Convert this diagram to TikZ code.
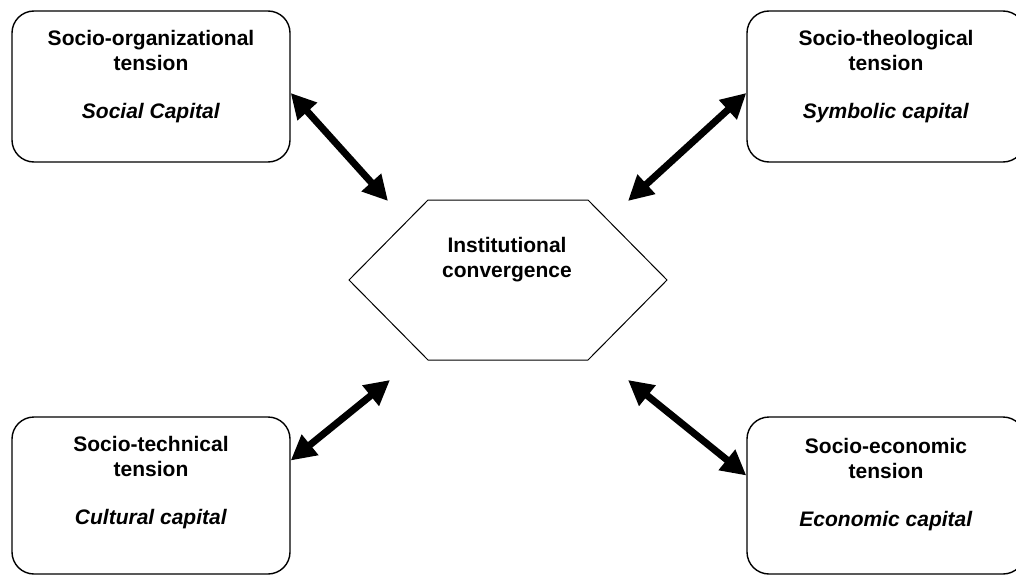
\documentclass[tikz,border=0pt]{standalone}
\usepackage{fontspec}
\setmainfont{Liberation Sans}
\usetikzlibrary{arrows.meta}

\tikzset{
  tensionbox/.style={draw, rounded corners=22pt, line width=1.4pt, minimum width=278pt},
  tensiontext/.style={align=center, font=\fontsize{21}{25}\selectfont\bfseries},
  linkarrow/.style={{Triangle[length=25pt,width=25pt]}-{Triangle[length=25pt,width=25pt]}, line width=7pt},
}

\begin{document}
\begin{tikzpicture}[x=1pt, y=-1pt]
  \useasboundingbox (0,0) rectangle (1016,575);
  \clip (0,0) rectangle (1016,575);

  % the four tensions
  \node[tensionbox, minimum height=151pt] (orgbox) at (151,86.5) {};
  \node[tensionbox, minimum height=151pt] (theobox) at (886,86.5) {};
  \node[tensionbox, minimum height=157pt] (techbox) at (151,495.5) {};
  \node[tensionbox, minimum height=157pt] (econbox) at (886,495.5) {};

  \node[tensiontext] (orgtext) at (151,77) {Socio-organizational\\tension\\[23pt]\textit{Social Capital}};
  \node[tensiontext] (theotext) at (886,77) {Socio-theological\\tension\\[23pt]\textit{Symbolic capital}};
  \node[tensiontext] (techtext) at (151,483) {Socio-technical\\tension\\[23pt]\textit{Cultural capital}};
  \node[tensiontext] (econtext) at (886,485) {Socio-economic\\tension\\[23pt]\textit{Economic capital}};

  % centre
  \draw[line width=1pt] (349,280) -- (428,200) -- (588,200) -- (667,280) -- (588,360) -- (428,360) -- cycle;
  \node[tensiontext] (conv) at (507,260) {Institutional\\convergence};

  \coordinate (hexnw) at (388,201);
  \coordinate (hexne) at (628,201);
  \coordinate (hexsw) at (390,380);
  \coordinate (hexse) at (628,380);

  \draw[linkarrow] ([yshift=-6.5pt]orgbox.east) -- (hexnw);
  \draw[linkarrow] ([yshift=-6.5pt]theobox.west) -- (hexne);
  \draw[linkarrow] ([yshift=35pt]techbox.east) -- (hexsw);
  \draw[linkarrow] ([yshift=20pt]econbox.west) -- (hexse);
\end{tikzpicture}
\end{document}
